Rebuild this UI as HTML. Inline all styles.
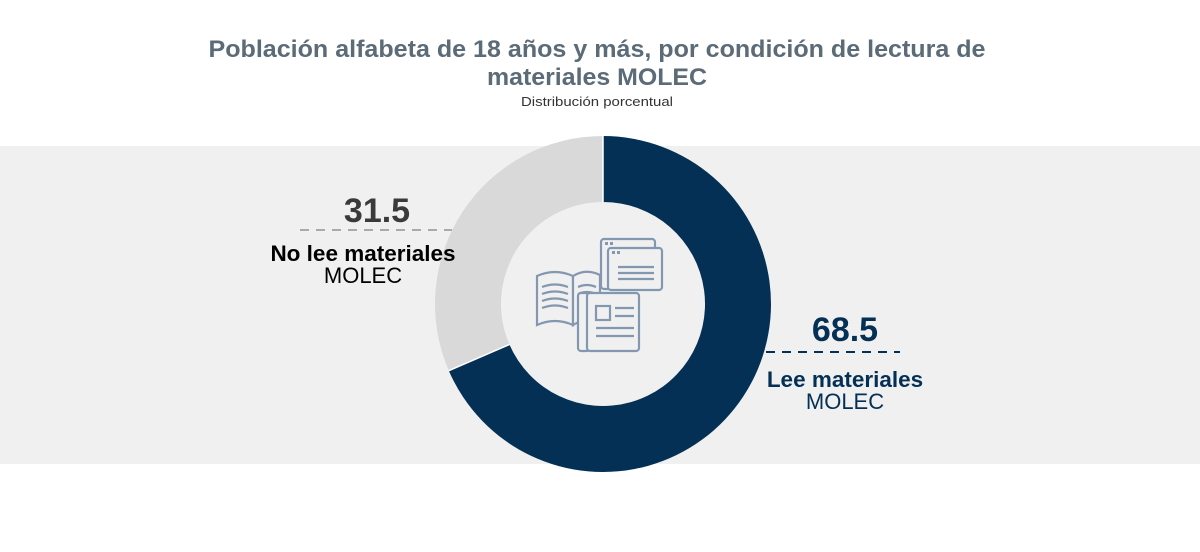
<!DOCTYPE html>
<html><head><meta charset="utf-8"><style>
html,body{margin:0;padding:0;background:#fff;}
body{width:1200px;height:547px;overflow:hidden;font-family:"Liberation Sans",Arial,sans-serif;}
</style></head><body>
<svg width="1200" height="547" viewBox="0 0 1200 547" xmlns="http://www.w3.org/2000/svg" font-family="Liberation Sans, Arial, sans-serif">
<rect x="0" y="146" width="1200" height="318" fill="#f0f0f0"/>
<text x="597" y="57" text-anchor="middle" font-size="24" font-weight="bold" fill="#5b6b78" textLength="777" lengthAdjust="spacingAndGlyphs">Población alfabeta de 18 años y más, por condición de lectura de</text>
<text x="597" y="85" text-anchor="middle" font-size="24" font-weight="bold" fill="#5b6b78" textLength="220" lengthAdjust="spacingAndGlyphs">materiales MOLEC</text>
<text x="597" y="106" text-anchor="middle" font-size="13" fill="#333" textLength="152" lengthAdjust="spacingAndGlyphs">Distribución porcentual</text>
<path d="M603 136 A168 168 0 1 1 448.8 370.7 L509.4 344.5 A102 102 0 1 0 603 202 Z" fill="#043055"/>
<path d="M603 136 L603 202 A102 102 0 0 0 509.4 344.5 L448.8 370.7 A168 168 0 0 1 603 136 Z" fill="#d9d9d9"/>
<line x1="603" y1="136" x2="603" y2="202" stroke="#fff" stroke-width="1.5"/>
<line x1="448.8" y1="370.7" x2="509.4" y2="344.5" stroke="#fff" stroke-width="1.5"/>
<g fill="none" stroke="#8497b0" stroke-width="2.2">
<rect x="601" y="239" width="54" height="50" rx="3"/>
<rect x="608" y="248" width="54" height="42" rx="3" fill="#f0f0f0"/>
<line x1="618" y1="267" x2="654" y2="267"/><line x1="618" y1="273" x2="654" y2="273"/><line x1="618" y1="279" x2="654" y2="279"/>
<path d="M537 276 Q555 268 573 276 L573 325 Q555 317 537 325 Z" fill="#f0f0f0"/>
<path d="M573 276 Q586 268 600 275 L600 325 Q586 317 573 325 Z" fill="#f0f0f0"/>
<path d="M542 287 Q555 282 568 287 M542 294 Q555 289 568 294 M542 301 Q555 296 568 301 M542 308 Q555 303 568 308"/>
<path d="M578 287 Q587 283 596 287 M578 294 Q587 290 596 294"/>
<rect x="578" y="293" width="12" height="58" rx="3" fill="#f0f0f0"/>
<rect x="587" y="293" width="52" height="58" rx="3" fill="#f0f0f0"/>
<rect x="596" y="306" width="14" height="14"/>
<line x1="615" y1="308" x2="634" y2="308"/><line x1="615" y1="316" x2="634" y2="316"/>
<line x1="596" y1="328" x2="634" y2="328"/><line x1="596" y1="336" x2="634" y2="336"/>
</g>
<g fill="#8497b0"><rect x="605" y="242" width="3" height="3"/><rect x="610" y="242" width="3" height="3"/><rect x="612" y="251" width="3" height="3"/><rect x="617" y="251" width="3" height="3"/></g>
<text x="377" y="222" text-anchor="middle" font-size="34" font-weight="bold" fill="#3a3a3a">31.5</text>
<line x1="300" y1="230" x2="452" y2="230" stroke="#aaa" stroke-width="2" stroke-dasharray="9,7"/>
<text x="363" y="261" text-anchor="middle" font-size="22.5" font-weight="bold" fill="#000">No lee materiales</text>
<text x="363" y="283" text-anchor="middle" font-size="22" fill="#000">MOLEC</text>
<text x="845" y="341" text-anchor="middle" font-size="34" font-weight="bold" fill="#043055">68.5</text>
<line x1="766" y1="352" x2="900" y2="352" stroke="#043055" stroke-width="2" stroke-dasharray="9,7"/>
<text x="845" y="387" text-anchor="middle" font-size="22.5" font-weight="bold" fill="#043055">Lee materiales</text>
<text x="845" y="409" text-anchor="middle" font-size="22" fill="#043055">MOLEC</text>
</svg>
</body></html>
